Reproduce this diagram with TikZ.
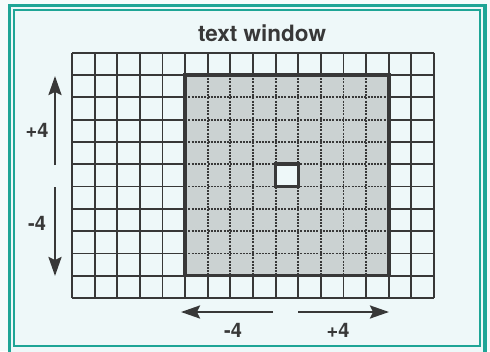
\documentclass[tikz,border=0pt]{standalone}
\usepackage{fontspec}
\setmainfont{TeX Gyre Heros}
\usetikzlibrary{arrows.meta}
\definecolor{teal1}{HTML}{1EA596}
\definecolor{bgc}{HTML}{EEF8F9}
\definecolor{ink}{HTML}{383838}
\definecolor{shadecol}{HTML}{CBD2D2}
\tikzset{
  gridline/.style={draw=ink, line width=1.8pt},
  innerline/.style={draw=ink, line width=1.8pt, dash pattern=on 2pt off 1.2pt},
  thickbox/.style={draw=ink, line width=3.5pt},
  lbl/.style={font=\bfseries\fontsize{20}{20}\selectfont, text=ink, inner sep=0pt},
  arr/.style={draw=ink, line width=2.5pt, -{Stealth[length=19pt,width=13pt,inset=3pt]}},
}
\begin{document}
\begin{tikzpicture}[x=1pt, y=-1pt]
\useasboundingbox (0,0) rectangle (490,351);
\fill[bgc!60!white] (0,0) rectangle (490,351);
\fill[bgc] (9.3,5.5) rectangle (485,354);
\draw[teal1, line width=3.5pt] (9.3,5.5) rectangle (485,354);
\draw[teal1, line width=1.4pt] (14,10) rectangle (480,346);
% title
\node[lbl, font=\bfseries\fontsize{22.5}{22.5}\selectfont] (title) at (262,33) {text window};
% grid
\begin{scope}[shift={(72,52.7)}, x=22.625pt, y=-22.3pt]
  \foreach \i in {0,...,16} \draw[gridline] (\i,0) -- (\i,11);
  \foreach \j in {0,...,11} \draw[gridline] (0,\j) -- (16,\j);
  \fill[shadecol] (5,1) rectangle (14,10);
  \foreach \i in {6,...,13} \draw[innerline] (\i,1) -- (\i,10);
  \foreach \j in {2,...,9} \draw[innerline] (5,\j) -- (14,\j);
  \draw[thickbox] (5,1) rectangle (14,10);
  \filldraw[fill=bgc, draw=ink, line width=3.5pt] (9,5) rectangle (10,6);
\end{scope}
% arrows
\coordinate (u1) at (55,165); \coordinate (u2) at (55,76);
\coordinate (d1) at (55,187); \coordinate (d2) at (55,276);
\coordinate (l1) at (273,312); \coordinate (l2) at (181,312);
\coordinate (r1) at (298,312); \coordinate (r2) at (389,312);
\draw[arr] (u1) -- (u2);
\draw[arr] (d1) -- (d2);
\draw[arr] (l1) -- (l2);
\draw[arr] (r1) -- (r2);
\node[lbl] (pv) at (37,130) {+4};
\node[lbl] (mv) at (37,223) {-4};
\node[lbl] (mh) at (233,330) {-4};
\node[lbl] (ph) at (338,330) {+4};
\end{tikzpicture}
\end{document}
